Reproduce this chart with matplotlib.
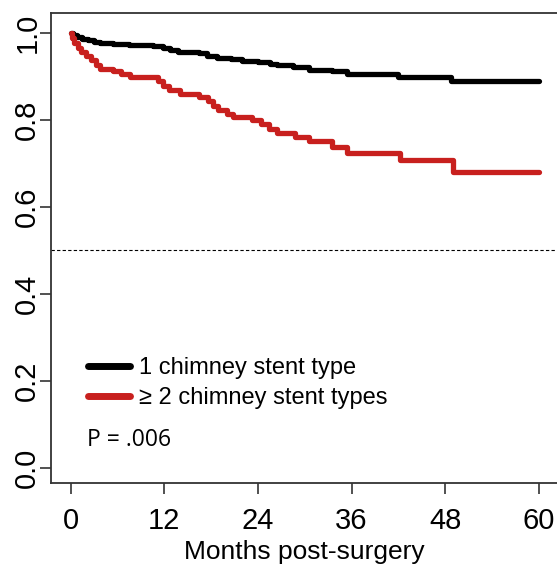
import numpy as np
import matplotlib
matplotlib.use("Agg")
from matplotlib import pyplot as plt

plt.rcParams['font.family'] = ['Liberation Sans', 'DejaVu Sans']

# step times (months) and survival for each group
one_type_t = [0, 0.3, 0.8, 1.5, 2.3, 3.0, 3.8, 5.5, 7.5, 10.5, 11.8, 12.8, 13.8, 16.5,
              17.5, 18.7, 20.5, 22.0, 24.0, 25.5, 26.5, 28.5, 30.6, 33.5, 35.4, 41.9, 48.8, 60]
one_type_s = [1.0, 0.994, 0.990, 0.986, 0.982, 0.979, 0.976, 0.974, 0.972, 0.969, 0.964,
              0.959, 0.955, 0.952, 0.947, 0.942, 0.939, 0.935, 0.932, 0.928, 0.925, 0.920,
              0.915, 0.911, 0.904, 0.898, 0.889, 0.889]

multi_type_t = [0, 0.2, 0.5, 0.9, 1.4, 2.0, 2.6, 3.2, 3.8, 5.5, 6.5, 7.6, 11.2, 11.8,
                12.6, 14.0, 16.5, 17.6, 18.3, 18.9, 20.0, 20.8, 23.2, 24.4, 25.4, 26.5,
                28.8, 30.5, 33.5, 35.4, 42.2, 49.0, 60]
multi_type_s = [1.0, 0.988, 0.975, 0.965, 0.956, 0.947, 0.936, 0.925, 0.916, 0.912,
                0.905, 0.898, 0.888, 0.878, 0.868, 0.859, 0.852, 0.842, 0.832, 0.822,
                0.814, 0.807, 0.799, 0.789, 0.779, 0.769, 0.760, 0.751, 0.737, 0.723,
                0.707, 0.680, 0.680]

labels = ["1 chimney stent type", "\u2265 2 chimney stent types"]
colors = ["black", "#C8201E"]
x_ticks = [0, 12, 24, 36, 48, 60]
y_ticks = [0.0, 0.2, 0.4, 0.6, 0.8, 1.0]
p_text = "P = .006"

fig = plt.figure(figsize=(5.57, 5.69), dpi=100)
ax = fig.add_axes([0.0916, 0.1511, 0.911, 0.8261])

ax.step(one_type_t, one_type_s, where="post", color=colors[0], lw=3.8,
        solid_capstyle="round", solid_joinstyle="round", label=labels[0])
ax.step(multi_type_t, multi_type_s, where="post", color=colors[1], lw=3.8,
        solid_capstyle="round", solid_joinstyle="round", label=labels[1])

ax.axhline(0.5, color="black", lw=0.8, linestyle=(0, (3, 2)))

ax.set_xlim(-2.5, 62.5)
ax.set_ylim(-0.034, 1.045)
ax.set_xticks(x_ticks)
ax.set_xticklabels([str(t) for t in x_ticks])
ax.set_yticks(y_ticks)
ax.set_yticklabels(["%.1f" % v for v in y_ticks], rotation=90, va="center")

ax.tick_params(axis="both", labelsize=21, length=8, width=1.2, color="#333333")
ax.tick_params(axis="x", pad=9)
ax.tick_params(axis="y", pad=-1)
for sp in ax.spines.values():
    sp.set_linewidth(1.3)
    sp.set_color("#333333")

ax.set_xlabel("Months post-surgery", fontsize=19, labelpad=4)

leg = ax.legend(loc="upper left", bbox_to_anchor=(0.055, 0.288), frameon=False,
                fontsize=17, handlelength=1.75, handletextpad=0.4, labelspacing=0.35,
                borderaxespad=0)
for line in leg.get_lines():
    line.set_linewidth(5)
    line.set_solid_capstyle("round")

ax.text(0.071, 0.091, p_text, transform=ax.transAxes, fontsize=16.5,
        family=["Open Sans", "DejaVu Sans"], va="center", ha="left")

plt.savefig("out.png", dpi=100)
